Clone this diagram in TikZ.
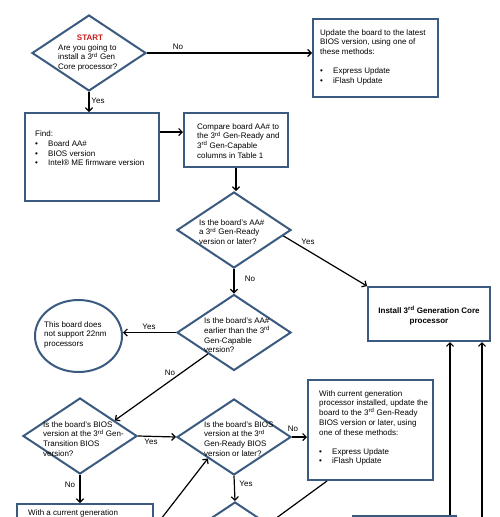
\documentclass[tikz,border=0pt]{standalone}
\usepackage{fontspec}
\setmainfont{Liberation Sans}
\usetikzlibrary{shapes.geometric,arrows.meta,calc}
\definecolor{bord}{RGB}{58,90,128}
\definecolor{startred}{RGB}{200,30,30}
\newcommand{\fl}{\rule{0pt}{7pt}}
\newcommand{\rdsup}{\textsuperscript{rd}}
\newcommand{\bul}{\makebox[13pt][l]{•}}
\begin{document}
\begin{tikzpicture}[x=1pt,y=-1pt,
  box/.style={draw=bord,line width=2pt,rectangle,inner sep=0pt},
  dia/.style={draw=bord,line width=2pt,diamond,minimum width=114pt,minimum height=76pt,inner sep=0pt},
  txt/.style={anchor=north west,inner sep=0pt,align=left,font=\fontsize{8}{9.7}\selectfont},
  lbl/.style={inner sep=0pt,font=\fontsize{8}{9.7}\selectfont},
  arr/.style={line width=1.2pt,-{Straight Barb[length=3.5pt,width=7pt]}},
  conn/.style={line width=1.2pt},
]
\useasboundingbox (0,0) rectangle (500,517);
\fill[white] (0,0) rectangle (500,517);
\clip (0,0) rectangle (500,517);

% shapes
\node[dia] (d1) at (89,53) {};
\node[box,minimum width=125pt,minimum height=78pt] (ur) at (375.5,58) {};
\node[box,minimum width=134pt,minimum height=88pt] (find) at (92,157) {};
\node[box,minimum width=104pt,minimum height=54pt] (cmp) at (236,140) {};
\node[dia] (d2) at (234,230) {};
\node[box,minimum width=122pt,minimum height=54pt] (inst) at (429,314) {};
\node[dia] (d3) at (234,332.5) {};
\node[draw=bord,line width=2pt,ellipse,minimum width=87pt,minimum height=72pt,inner sep=0pt] (ell) at (78.5,336) {};
\node[dia] (d4) at (80,436) {};
\node[dia] (d5) at (234,437) {};
\node[box,minimum width=125pt,minimum height=100pt] (box2) at (370.5,430) {};
\node[dia] (d6) at (235,540) {};
\node[box,minimum width=136pt,minimum height=86pt] (bl) at (85,547) {};
\node[box,minimum width=103pt,minimum height=64pt] (br) at (404.5,548) {};
\coordinate (offr) at (482,560);

% texts
\node[anchor=base,inner sep=0pt,font=\fontsize{8}{9.7}\selectfont\bfseries,text=startred] (tstart) at (90,40.7) {START};
\node[txt] (t1) at (58,43) {\fl Are you going to\\install a 3\rdsup{} Gen\\Core processor?};
\node[txt] (tur) at (320,28) {\fl Update the board to the latest\\BIOS version, using one of\\these methods:\\[9.5pt]\bul Express Update\\\bul iFlash Update};
\node[txt] (tfind) at (35,129.5) {\fl Find:\\\bul Board AA\#\\\bul BIOS version\\\bul Intel® ME firmware version};
\node[txt] (tcmp) at (197,122) {\fl Compare board AA\# to\\the 3\rdsup{} Gen-Ready and\\3\rdsup{} Gen-Capable\\columns in Table 1};
\node[txt] (td2) at (199,218) {\fl Is the board’s AA\#\\a 3\rdsup{} Gen-Ready\\version or later?};
\node[anchor=north,inner sep=0pt,align=center,font=\fontsize{8}{9.7}\selectfont\bfseries] (tinst) at (429,306) {\fl Install 3\rdsup{} Generation Core\\processor};
\node[txt] (td3) at (204,316.5) {\fl Is the board’s AA\#\\earlier than the 3\rdsup\\Gen-Capable\\version?};
\node[txt] (tell) at (44,320) {\fl This board does\\not support 22nm\\processors};
\node[txt] (td4) at (43,420) {\fl Is the board’s BIOS\\version at the 3\rdsup{} Gen-\\Transition BIOS\\version?};
\node[txt] (td5) at (204,420) {\fl Is the board’s BIOS\\version at the 3\rdsup\\Gen-Ready BIOS\\version or later?};
\node[txt] (tbox2) at (319,389) {\fl With current generation\\processor installed, update the\\board to the 3\rdsup{} Gen-Ready\\BIOS version or later, using\\one of these methods:\\[9.5pt]\bul Express Update\\\bul iFlash Update};
\node[txt] (tbl) at (28,508) {\fl With a current generation};

% connectors
\draw[arr] (d1.east) -- (d1.east -| ur.west);
\draw[arr] (d1.south) -- (d1.south |- find.north);
\draw[arr] ([yshift=-20pt]find.north east) -- ([yshift=-20pt]find.north east -| cmp.west);
\draw[arr] (cmp.south) -- (cmp.south |- d2.north);
\draw[arr] ($(d2.east)!0.15!(d2.south)$) -- (inst.north west);
\draw[arr] (d2.south) -- (d3.north);
\draw[arr] (d3.west) -- (d3.west -| ell.east);
\draw[arr] ($(d3.west)!0.55!(d3.south)$) -- ($(d4.north)!0.6!(d4.east)$);
\draw[arr] (d4.east) -- (d5.west);
\draw[arr] (d5.east) -- (d5.east -| box2.west);
\draw[arr] (d5.south) -- (d6.north);
\draw[arr] (d4.south) -- (d4.south |- bl.north);
\draw[arr] ([yshift=-25pt]bl.north east) -- ($(d5.west)!0.55!(d5.south)$);
\draw[arr] ([xshift=20pt]box2.south west) -- ($(d6.north)!0.58!(d6.east)$);
\draw[arr] ([xshift=-7pt]br.north east) -- ([xshift=-7pt]br.north east |- inst.south);
\draw[arr] (offr) -- (offr |- inst.south);

% labels
\node[lbl] (l1) at (178,47) {No};
\node[lbl] (l2) at (98,100.5) {Yes};
\node[lbl] (l3) at (308,242) {Yes};
\node[lbl] (l4) at (250,279) {No};
\node[lbl] (l5) at (149,327) {Yes};
\node[lbl] (l6) at (170,373) {No};
\node[lbl] (l7) at (151,442) {Yes};
\node[lbl] (l8) at (293,429) {No};
\node[lbl] (l9) at (246,484) {Yes};
\node[lbl] (l10) at (70,485) {No};
\end{tikzpicture}
\end{document}
